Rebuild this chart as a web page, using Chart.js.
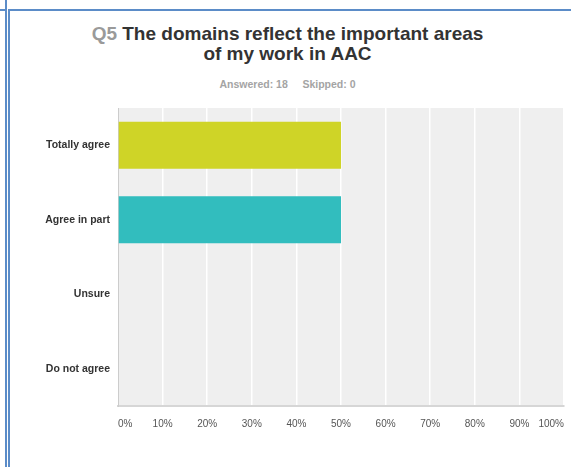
<!DOCTYPE html>
<html>
<head>
<meta charset="utf-8">
<script src="https://cdn.jsdelivr.net/npm/chart.js@4.4.1/dist/chart.umd.min.js"></script>
<style>
  body { margin: 0; width: 571px; height: 467px; background: #fff; position: relative; overflow: hidden;
         font-family: "Liberation Sans", Arial, sans-serif; }
  .edge { position: absolute; background: #5b8cc8; }
  #title { position: absolute; left: 2px; width: 571px; top: 24px; text-align: center;
           font-weight: bold; font-size: 19px; line-height: 20px; color: #333; }
  #title span { color: #9a9a9a; }
  #stats { position: absolute; left: 2px; width: 571px; top: 78px; text-align: center;
           font-weight: bold; font-size: 10.5px; color: #a4a4a4; }
  #wrap { position: absolute; left: 12px; top: 100px; width: 559px; height: 340px; }
</style>
</head>
<body>
<div class="edge" style="left:5px; top:0; width:2px; height:467px;"></div>
<div class="edge" style="left:0; top:9px; width:6px; height:2px;"></div>
<div class="edge" style="left:8px; top:9px; width:2px; height:458px;"></div>
<div class="edge" style="left:8px; top:9px; width:563px; height:2px;"></div>

<div id="title"><span>Q5</span> The domains reflect the important areas<br>of my work in AAC</div>
<div id="stats">Answered: 18&nbsp;&nbsp;&nbsp;&nbsp; Skipped: 0</div>

<div id="wrap"><canvas id="chart"></canvas></div>

<script>
const categories = ['Totally agree', 'Agree in part', 'Unsure', 'Do not agree'];
const answerPercent = [50, 50, 0, 0];
const barColors = ['#cfd427', '#32bdbe', '#7c7fbf', '#e2765f'];

// grey panel behind the bars
const plotBackground = {
  id: 'plotBackground',
  beforeDraw(chart) {
    const { ctx, chartArea: a } = chart;
    ctx.save();
    ctx.fillStyle = '#efefef';
    ctx.fillRect(a.left, a.top, a.right - a.left, a.bottom - a.top);
    ctx.restore();
  }
};

const chart = document.querySelector('#chart').getContext('2d');

new Chart(chart, {
  type: 'bar',
  data: {
    labels: categories,
    datasets: [{
      data: answerPercent,
      backgroundColor: barColors,
      barPercentage: 0.63,
      categoryPercentage: 1
    }]
  },
  options: {
    indexAxis: 'y',
    responsive: true,
    maintainAspectRatio: false,
    animation: false,
    layout: { padding: { top: 8, right: 7, bottom: 0, left: 0 } },
    plugins: {
      legend: { display: false },
      tooltip: { enabled: false }
    },
    scales: {
      x: {
        min: 0,
        max: 100,
        ticks: {
          stepSize: 10,
          align: 'inner',
          padding: 12,
          color: '#555',
          font: { family: 'Liberation Sans', size: 10 },
          callback: v => v + '%'
        },
        grid: { color: '#ffffff', lineWidth: 1.5, drawTicks: false },
        border: { color: '#d6d6d6', width: 2 },
        afterFit: s => {
          s.height = 34;
          s.paddingLeft = 0;
          s.paddingRight = 0;
        }
      },
      y: {
        ticks: {
          padding: 8,
          color: '#333',
          font: { family: 'Liberation Sans', size: 10.5, weight: 'bold' }
        },
        grid: { display: false, drawTicks: false },
        border: { color: '#cccccc', width: 1 },
        afterFit: s => {
          s.width = 106;
          s.paddingTop = 0;
          s.paddingBottom = 0;
        }
      }
    }
  },
  plugins: [plotBackground]
});
</script>
</body>
</html>
